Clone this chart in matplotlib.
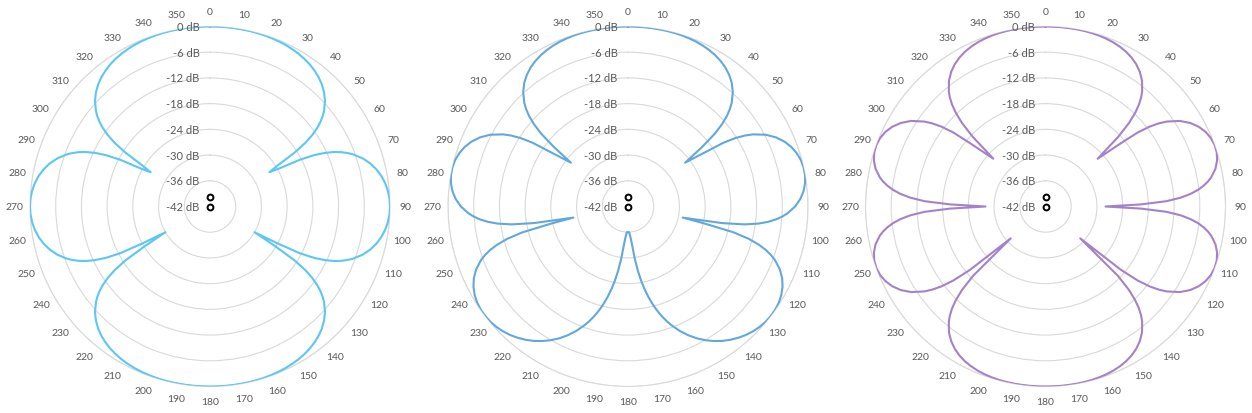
import numpy as np
import matplotlib
matplotlib.use("Agg")
import matplotlib.pyplot as plt

plt.rcParams['font.family'] = ['Lato', 'DejaVu Sans']

# polar patterns, values in dB (2.5 degree steps)
theta_a = [i * 2.5 for i in range(144)]
db_a = [0.0, 0.0, 0.0, 0.0, -0.01, -0.02, -0.05, -0.09, -0.16, -0.25, -0.38, -0.56, -0.79, -1.1, -1.48, -1.98,
        -2.59, -3.37, -4.35, -5.61, -7.26, -9.5, -12.8, -18.6, -26.0, -18.4, -12.4, -8.87, -6.45, -4.64, -3.26,
        -2.19, -1.36, -0.75, -0.33, -0.08, 0.0,
        -0.08, -0.33, -0.75, -1.36, -2.19, -3.26, -4.64, -6.45, -8.87, -12.4, -18.4, -30.0, -18.6, -12.8, -9.5,
        -7.26, -5.61, -4.35, -3.37, -2.59, -1.98, -1.48, -1.1, -0.79, -0.56, -0.38, -0.25, -0.16, -0.09, -0.05,
        -0.02, -0.01, 0.0, 0.0, 0.0, 0.0,
        0.0, 0.0, 0.0, -0.01, -0.02, -0.05, -0.09, -0.16, -0.25, -0.38, -0.56, -0.79, -1.1, -1.48, -1.98, -2.59,
        -3.37, -4.35, -5.61, -7.26, -9.5, -12.8, -18.6, -30.0, -18.4, -12.4, -8.87, -6.45, -4.64, -3.26, -2.19,
        -1.36, -0.75, -0.33, -0.08, 0.0,
        -0.08, -0.33, -0.75, -1.36, -2.19, -3.26, -4.64, -6.45, -8.87, -12.4, -18.4, -26.0, -18.6, -12.8, -9.5,
        -7.26, -5.61, -4.35, -3.37, -2.59, -1.98, -1.48, -1.1, -0.79, -0.56, -0.38, -0.25, -0.16, -0.09, -0.05,
        -0.02, -0.01, 0.0, 0.0, 0.0]
# extra readings on the steep flanks next to the nulls
theta_a_fine = [51.25, 53.75, 56.25, 58.75, 61.25, 63.75, 66.25, 68.75,
                111.25, 113.75, 116.25, 118.75, 121.25, 123.75, 126.25, 128.75,
                231.25, 233.75, 236.25, 238.75, 241.25, 243.75, 246.25, 248.75,
                291.25, 293.75, 296.25, 298.75, 301.25, 303.75, 306.25, 308.75]
db_a_fine = [-8.28, -10.97, -15.2, -23.5, -23.5, -14.88, -10.43, -7.56,
             -7.56, -10.43, -14.88, -24.5, -24.5, -15.2, -10.97, -8.28,
             -8.28, -10.97, -15.2, -24.5, -24.5, -14.88, -10.43, -7.56,
             -7.56, -10.43, -14.88, -23.5, -23.5, -15.2, -10.97, -8.28]

theta_b = sorted([i * 2.5 for i in range(144)] + [101.5, 258.5])
db_b = [0.0, 0.0, 0.0, -0.01, -0.02, -0.04, -0.08, -0.14, -0.25, -0.39, -0.6, -0.89, -1.26, -1.76, -2.4, -3.24,
        -4.34, -5.79, -7.78, -10.68, -15.53, -25.2, -19.7, -12.26, -8.34, -5.74, -3.86, -2.46, -1.43, -0.7, -0.23,
        -0.02, -0.05, -0.33, -0.88, -1.75, -3.01, -4.79, -7.36, -11.39, -19.72,
        -29.0,
        -23.8, -12.81, -8.29, -5.53, -3.64, -2.3, -1.35, -0.69, -0.27, -0.05, -0.01, -0.12, -0.39, -0.79, -1.33,
        -2.0, -2.79, -3.71, -4.78, -5.98, -7.34, -8.88, -10.62, -12.59, -14.86, -17.5, -20.64, -24.49, -29.5,
        -34.5, -36.0, -36.0,
        -36.0, -34.5, -29.5, -24.49, -20.64, -17.5, -14.86, -12.59, -10.62, -8.88, -7.34, -5.98, -4.78, -3.71,
        -2.79, -2.0, -1.33, -0.79, -0.39, -0.12, -0.01, -0.05, -0.27, -0.69, -1.35, -2.3, -3.64, -5.53, -8.29,
        -12.81, -23.8,
        -29.0,
        -19.72, -11.39, -7.36, -4.79, -3.01, -1.75, -0.88, -0.33, -0.05, -0.02, -0.23, -0.7, -1.43, -2.46, -3.86,
        -5.74, -8.34, -12.26, -19.7, -25.2, -15.53, -10.68, -7.78, -5.79, -4.34, -3.24, -2.4, -1.76, -1.26, -0.89,
        -0.6, -0.39, -0.25, -0.14, -0.08, -0.04, -0.02, -0.01, 0.0, 0.0]
theta_b_fine = [46.25, 48.75, 51.25, 56.25, 58.75,
                93.75, 96.25, 98.75, 103.75, 106.25, 108.75,
                161.25, 163.75, 166.25, 168.75, 171.25, 173.75,
                186.25, 188.75, 191.25, 193.75, 196.25, 198.75,
                251.25, 253.75, 256.25, 261.25, 263.75, 266.25,
                301.25, 303.75, 308.75, 311.25, 313.75]
db_b_fine = [-9.06, -12.73, -19.86, -15.21, -10.07,
             -5.94, -9.11, -14.57, -16.63, -10.22, -6.76,
             -13.68, -16.12, -18.99, -22.46, -26.8, -32.65,
             -32.65, -26.8, -22.46, -18.99, -16.12, -13.68,
             -6.76, -10.22, -16.63, -14.57, -9.11, -5.94,
             -10.07, -15.21, -19.86, -12.73, -9.06]

theta_c = [i * 2.5 for i in range(144)]
db_c = [0.0, 0.0, 0.0, -0.01, -0.02, -0.05, -0.11, -0.21, -0.36, -0.57, -0.88, -1.29, -1.86, -2.62, -3.63, -5.0,
        -6.91, -9.72, -14.45, -25.5, -19.0, -11.39, -7.44, -4.84, -3.01, -1.7, -0.79, -0.24, -0.01, -0.1, -0.55,
        -1.39, -2.74, -4.78, -7.98, -13.8, -28.0,
        -13.8, -7.98, -4.78, -2.74, -1.39, -0.55, -0.1, -0.01, -0.24, -0.79, -1.7, -3.01, -4.84, -7.44, -11.39,
        -19.0, -31.0, -14.45, -9.72, -6.91, -5.0, -3.63, -2.62, -1.86, -1.29, -0.88, -0.57, -0.36, -0.21, -0.11,
        -0.05, -0.02, -0.01, 0.0, 0.0, 0.0,
        0.0, 0.0, -0.01, -0.02, -0.05, -0.11, -0.21, -0.36, -0.57, -0.88, -1.29, -1.86, -2.62, -3.63, -5.0, -6.91,
        -9.72, -14.45, -31.0, -19.0, -11.39, -7.44, -4.84, -3.01, -1.7, -0.79, -0.24, -0.01, -0.1, -0.55, -1.39,
        -2.74, -4.78, -7.98, -13.8, -28.0,
        -13.8, -7.98, -4.78, -2.74, -1.39, -0.55, -0.1, -0.01, -0.24, -0.79, -1.7, -3.01, -4.84, -7.44, -11.39,
        -19.0, -25.5, -14.45, -9.72, -6.91, -5.0, -3.63, -2.62, -1.86, -1.29, -0.88, -0.57, -0.36, -0.21, -0.11,
        -0.05, -0.02, -0.01, 0.0, 0.0]
theta_c_fine = [41.25, 43.75, 46.25, 51.25, 53.75,
                81.25, 83.75, 86.25, 88.75, 91.25, 93.75, 96.25, 98.75,
                126.25, 128.75, 133.75, 136.25, 138.75,
                221.25, 223.75, 226.25, 231.25, 233.75,
                261.25, 263.75, 266.25, 268.75, 271.25, 273.75, 276.25, 278.75,
                306.25, 308.75, 313.75, 316.25, 318.75]
db_c_fine = [-8.16, -11.72, -18.58, -14.39, -9.17,
             -3.65, -6.18, -10.36, -19.78, -19.78, -10.36, -6.18, -3.65,
             -9.17, -14.39, -18.58, -11.72, -8.16,
             -8.16, -11.72, -18.58, -14.39, -9.17,
             -3.65, -6.18, -10.36, -19.78, -19.78, -10.36, -6.18, -3.65,
             -9.17, -14.39, -18.58, -11.72, -8.16]

# the two little markers sitting at the centre of every chart
marker_theta = [0, 0]
marker_db = [-39.7, -42]

r_ticks = [-42, -36, -30, -24, -18, -12, -6, 0]
angle_ticks = list(range(0, 360, 10))

colors = ['#5bc7f2', '#62a8dc', '#a482c9']
series = [(theta_a, db_a, theta_a_fine, db_a_fine),
          (theta_b, db_b, theta_b_fine, db_b_fine),
          (theta_c, db_c, theta_c_fine, db_c_fine)]
centers_x = [210, 628, 1045.5]

W, H = 1252, 414
fig = plt.figure(figsize=(W / 100, H / 100), dpi=100)
R = 180
cy = 207.5

for (th, db, th2, db2), col, cx in zip(series, colors, centers_x):
    assert len(th) == len(db) and len(th2) == len(db2)
    ang = np.array(th + th2)
    val = np.array(db + db2)
    order = np.argsort(ang, kind='stable')
    ang, val = ang[order], val[order]

    ax = fig.add_axes([(cx - R) / W, (H - cy - R) / H, 2 * R / W, 2 * R / H], projection='polar')
    ax.set_theta_zero_location('N')
    ax.set_theta_direction(-1)
    ax.set_ylim(-42, 0)

    t = np.deg2rad(np.append(ang, ang[0]))
    v = np.append(val, val[0])
    ax.plot(t, v, color=col, lw=1.5, zorder=3)
    ax.plot(np.deg2rad(marker_theta), marker_db, 'o', ls='none', ms=4.2,
            mfc='white', mec='black', mew=1.4, zorder=4, clip_on=False)

    ax.set_yticks(r_ticks)
    ax.set_yticklabels([])
    ax.yaxis.grid(True, color='#d9d9d9', lw=0.8)
    ax.xaxis.grid(False)
    ax.spines['polar'].set_color('#d9d9d9')
    ax.spines['polar'].set_linewidth(0.8)
    ax.set_thetagrids(angle_ticks, [str(a) for a in angle_ticks])
    ax.tick_params(axis='x', pad=0.5, labelsize=7.5, labelcolor='#595959')

    for r in r_ticks:
        ax.annotate(f"{r} dB", xy=(0, r), xytext=(-7.5, 0), textcoords='offset points',
                    ha='right', va='center', fontsize=8, color='#595959', zorder=5)

fig.savefig('out.png', dpi=100)
